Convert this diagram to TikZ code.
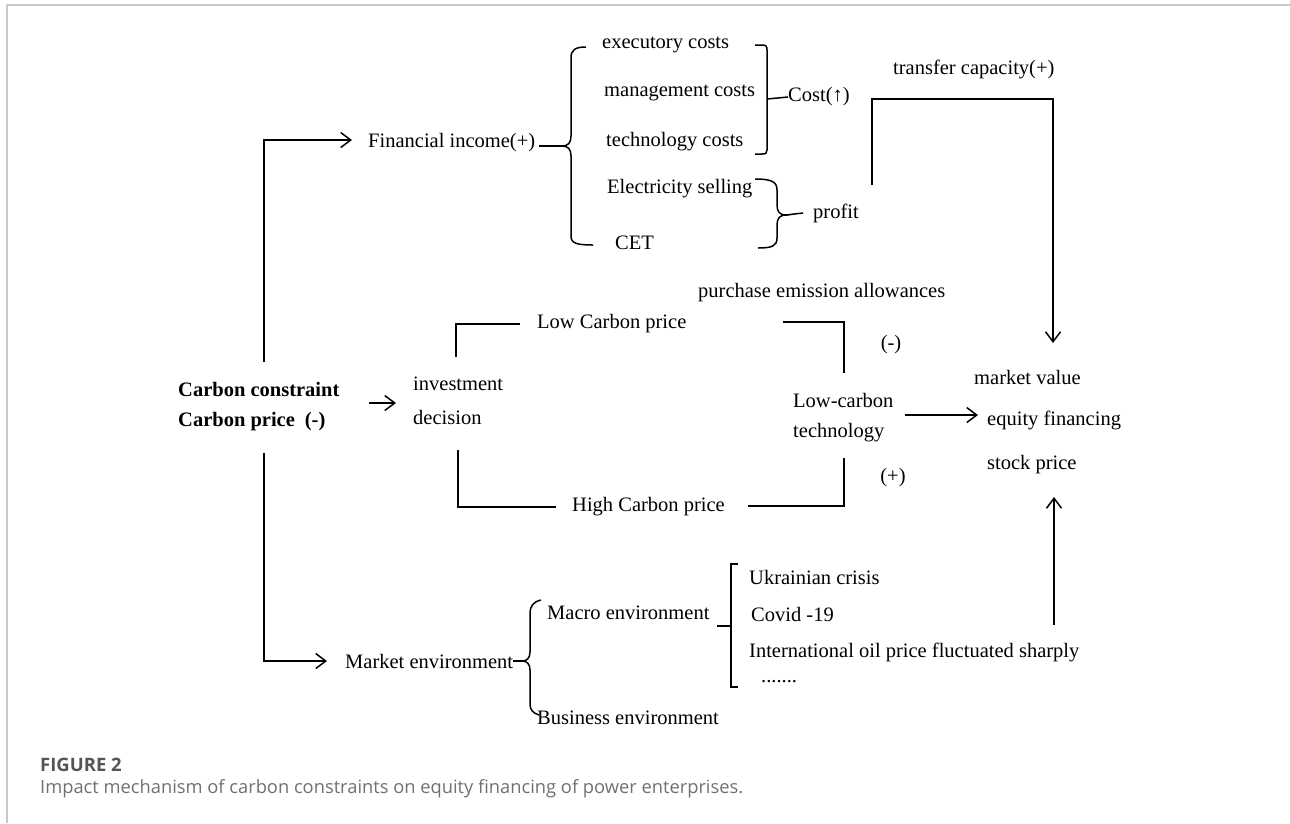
\documentclass[tikz,border=0pt]{standalone}
\usepackage{fontspec}
\setmainfont{Liberation Serif}
\newfontfamily\capfont{Open Sans}
\usetikzlibrary{arrows.meta}
\definecolor{capgray}{HTML}{707070}
\definecolor{figgray}{HTML}{555555}
\definecolor{bordergray}{HTML}{C8C8C8}
\begin{document}
\begin{tikzpicture}[x=1pt,y=-1pt,
  txt/.style={inner sep=0pt, anchor=west, font=\fontsize{20.5}{24}\selectfont},
  bld/.style={txt, font=\fontsize{20.5}{24}\selectfont\bfseries},
  ln/.style={line width=1.5pt, line join=miter},
  arr/.style={ln, -{Straight Barb[length=10pt,width=15pt,line width=1.5pt]}},
]
\useasboundingbox (0,0) rectangle (1290,823);
\draw[bordergray, line width=1.5pt] (7,823) -- (7,5) -- (1290,5);

% texts
\node[txt] (fi) at (368,143) {Financial income(+)};
\node[txt] (exe) at (602,45) {executory costs};
\node[txt] (man) at (604,93) {management costs};
\node[txt] (tec) at (606,142) {technology costs};
\node[txt] (ele) at (607,189) {Electricity selling};
\node[txt] (cet) at (615,243) {CET};
\node[txt] (cost) at (788,97) {Cost(↑)};
\node[txt] (profit) at (813,213) {profit};
\node[txt] (tc) at (893,69) {transfer capacity(+)};
\node[bld] (cc) at (178,389) {Carbon constraint};
\node[bld] (cp) at (178,422) {Carbon price\hspace{10pt}(-)};
\node[txt] (inv) at (413,384) {investment};
\node[txt] (dec) at (413,417) {decision};
\node[txt] (lcp) at (537,324) {Low Carbon price};
\node[txt] (hcp) at (572,507) {High Carbon price};
\node[txt] (pea) at (698,293) {purchase emission allowances};
\node[txt,anchor=center] (minus) at (891,345) {(-)};
\node[txt,anchor=center] (plus) at (893,478) {(+)};
\node[txt] (lc1) at (793,400) {Low-carbon};
\node[txt] (lc2) at (793,433) {technology};
\node[txt] (mv) at (974,377) {market value};
\node[txt] (ef) at (987,420) {equity financing};
\node[txt] (sp) at (987,465) {stock price};
\node[txt] (me) at (345,661) {Market environment};
\node[txt] (macro) at (547,613) {Macro environment};
\node[txt] (bus) at (537,718) {Business environment};
\node[txt] (uk) at (749,577) {Ukrainian crisis};
\node[txt] (cov) at (751,614) {Covid -19};
\node[txt] (oil) at (749,652) {International oil price fluctuated sharply};
\node[txt,anchor=base west] (dots) at (761,682) {.......};

% caption
\node[inner sep=0pt, anchor=west, text=figgray, font=\capfont\bfseries\fontsize{18.5}{20}\selectfont] (fig) at (40,765) {FIGURE 2};
\node[inner sep=0pt, anchor=west, text=capgray, font=\capfont\fontsize{18.3}{20}\selectfont] (cap) at (40,789) {Impact mechanism of carbon constraints on equity financing of power enterprises.};

% coordinates
\coordinate (lt) at (264,362);
\coordinate (fiA) at (352,140);
\coordinate (lb) at (264,453);
\coordinate (meA) at (327,661);
\coordinate (m1) at (369,403);
\coordinate (m2) at (396,403);
\coordinate (lcS) at (905,415);
\coordinate (efA) at (978,415);
\coordinate (tS) at (872,185);
\coordinate (tC) at (1053,99);
\coordinate (mvA) at (1053,343);
\coordinate (upS) at (1054,625);
\coordinate (spA) at (1054,497);
\coordinate (fib) at (562,146);
\coordinate (pb) at (786,215);
\coordinate (mb) at (522,661);

% main arrows
\draw[arr] (lt) |- (fiA);
\draw[arr] (lb) |- (meA);
\draw[arr] (m1) -- (m2);
\draw[arr] (lcS) -- (efA);
\draw[arr] (tS) |- (tC) -- (mvA);
\draw[arr] (upS) -- (spA);

% low / high carbon price brackets
\draw[ln] (456,357) |- (520,324);
\draw[ln] (783,322) -| (844,373);
\draw[ln] (458,450) |- (556,507);
\draw[ln] (748,506) -| (844,458);

% financial income brace
\draw[ln] ([xshift=4pt,yshift=-3pt]fi.east) -- (fib);
\draw[ln] (586,47) .. controls (575,47) and (571,50) .. (571,58) -- (571,136)
  .. controls (571,143) and (568,146) .. (fib)
  .. controls (568,146) and (571,149) .. (571,156) -- (571,236)
  .. controls (571,243) and (576,245) .. (593,245);

% cost bracket
\draw[ln] (755,45) -- (762,45) .. controls (766,45) and (767,46) .. (767,50) -- (767,150)
  .. controls (767,153) and (766,154) .. (762,154) -- (755,154);
\draw[ln] (767,99) -- (cost.west);

% profit brace
\draw[ln] (755,179) .. controls (772,179) and (777,182) .. (777,190) -- (777,205)
  .. controls (777,212) and (780,215) .. (pb)
  .. controls (780,215) and (777,218) .. (777,225) -- (777,238)
  .. controls (777,246) and (772,248) .. (758,248);
\draw[ln] (pb) -- ([xshift=-10pt]profit.west);

% market environment brace
\draw[ln] (me.east) -- (mb);
\draw[ln] (541,600) .. controls (533,602) and (530,606) .. (530,614) -- (530,652)
  .. controls (530,658) and (527,661) .. (mb)
  .. controls (527,661) and (530,664) .. (530,670) -- (530,704)
  .. controls (530,710) and (533,713) .. (539,715);

% macro bracket
\draw[ln] (738,564) -- (731,564) -- (731,687) -- (738,687);
\draw[ln] (717,626) -- (731,626);
\end{tikzpicture}
\end{document}
